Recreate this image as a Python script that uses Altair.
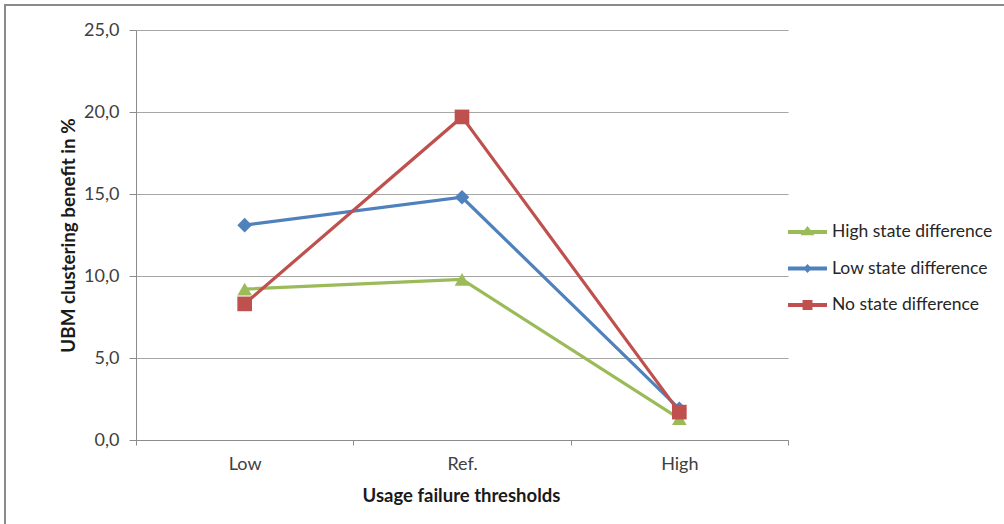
import altair as alt
import pandas as pd

# Usage failure threshold scenarios on the x axis
categories = ["Low", "Ref.", "High"]

# UBM clustering benefit (%) per state-difference scenario
series_names = ["High state difference", "Low state difference", "No state difference"]
high_state = [9.2, 9.8, 1.3]
low_state = [13.1, 14.8, 1.9]
no_state = [8.3, 19.7, 1.7]

colors = ["#9BBB59", "#4F81BD", "#C0504D"]
markers = ["triangle-up", "diamond", "square"]

# legend glyphs: a short line segment with the series marker on top
legend_glyphs = [
    "M-1.3,-0.13H1.3V0.13H-1.3Z M-0.47,0.22L0,-0.4L0.47,0.22Z",
    "M-1.3,-0.13H1.3V0.13H-1.3Z M0,-0.3L0.28,0L0,0.3L-0.28,0Z",
    "M-1.3,-0.13H1.3V0.13H-1.3Z M-0.33,-0.33H0.33V0.33H-0.33Z",
]

rows = []
for name, vals in zip(series_names, [high_state, low_state, no_state]):
    for i, (cat, v) in enumerate(zip(categories, vals)):
        rows.append({"category": cat, "series": name, "value": v, "idx": i})
df = pd.DataFrame(rows)

FONT = "Lato"
GRID = "#a6a6a6"
AXIS = "#8c8c8c"

x_enc = alt.X(
    "category:N",
    sort=categories,
    bandPosition=0.5,
    scale=alt.Scale(type="band", paddingInner=0, paddingOuter=0),
    axis=alt.Axis(
        title="Usage failure thresholds",
        labelAngle=0,
        tickBand="extent",
        tickSize=5,
        tickColor=AXIS,
        domainColor=AXIS,
        grid=False,
        labelPadding=10,
        labelFontSize=18,
        labelColor="#404040",
        titleFontSize=18.5,
        titleFontWeight="bold",
        titleColor="#1a1a1a",
        titleX=325,
        titleY=55,
        titleBaseline="middle",
    ),
)

y_enc = alt.Y(
    "value:Q",
    scale=alt.Scale(domain=[0, 25], nice=False, zero=True),
    axis=alt.Axis(
        title="UBM clustering benefit in %",
        values=[0, 5, 10, 15, 20, 25],
        labelExpr="replace(format(datum.value, '.1f'), '.', ',')",
        tickSize=7,
        tickColor=AXIS,
        domainColor=AXIS,
        gridColor=GRID,
        labelPadding=10,
        labelFontSize=18,
        labelColor="#404040",
        titleFontSize=18.8,
        titleFontWeight="bold",
        titleColor="#1a1a1a",
        titleAngle=270,
        titleX=-68,
        titleY=205,
        titleAlign="center",
        titleBaseline="middle",
    ),
)

base = alt.Chart(df)

# one line + marker layer per series
series_layers = []
for name, col in zip(series_names, colors):
    sub = base.transform_filter(alt.datum.series == name)
    series_layers.append(
        sub.mark_line(strokeWidth=3.2, color=col).encode(
            x=x_enc, y=y_enc, order=alt.Order("idx:Q")
        )
    )
for name, col, shape in zip(series_names, colors, markers):
    sub = base.transform_filter(alt.datum.series == name)
    series_layers.append(
        sub.mark_point(filled=True, opacity=1, size=215, shape=shape, color=col).encode(
            x=x_enc, y=y_enc
        )
    )

# invisible points that carry the legend (color + glyph per series)
legend_layer = base.mark_point(filled=True, opacity=0).encode(
    x=x_enc,
    y=y_enc,
    color=alt.Color(
        "series:N",
        scale=alt.Scale(domain=series_names, range=colors),
        legend=alt.Legend(title=None, symbolOpacity=1),
    ),
    shape=alt.Shape(
        "series:N",
        scale=alt.Scale(domain=series_names, range=legend_glyphs),
        legend=alt.Legend(title=None, symbolOpacity=1),
    ),
)

frame_df = pd.DataFrame({"k": [0]})
frame_top = alt.Chart(frame_df).mark_rule(color="#8a8a8a", strokeWidth=2).encode(
    x=alt.value(-131), x2=alt.value(880), y=alt.value(-25)
)
frame_left = alt.Chart(frame_df).mark_rule(color="#8a8a8a", strokeWidth=2).encode(
    x=alt.value(-131), y=alt.value(-26), y2=alt.value(500)
)

chart = (
    alt.layer(frame_top, frame_left, *series_layers, legend_layer)
    .properties(
        width=652,
        height=410,
        padding={"left": 136, "top": 30, "right": 216, "bottom": 84},
        autosize=alt.AutoSizeParams(type="none"),
        background="white",
    )
    .configure_view(stroke=None)
    .configure_axis(labelFont=FONT, titleFont=FONT)
    .configure_legend(
        orient="none",
        legendX=656.5,
        legendY=187,
        symbolSize=900,
        symbolStrokeWidth=0,
        labelFont=FONT,
        labelFontSize=17.5,
        labelColor="#262626",
        labelOffset=9.5,
        labelLimit=400,
        rowPadding=12.5,
    )
)

chart.save("out.html", embed_options={"renderer": "svg", "actions": False})
